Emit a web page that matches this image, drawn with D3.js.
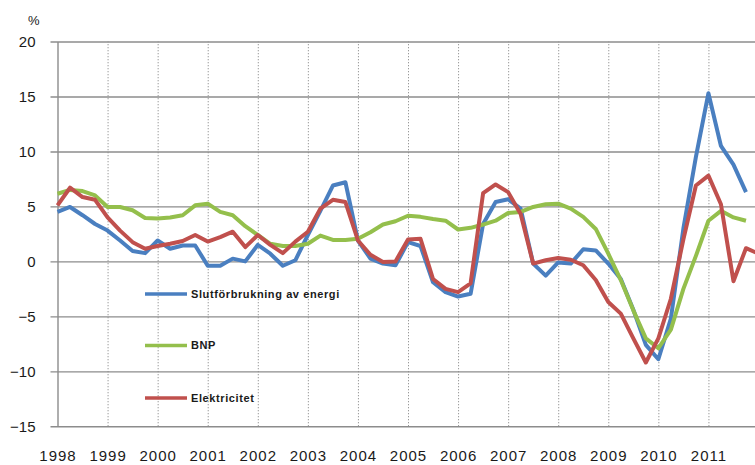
<!DOCTYPE html>
<html lang="sv">
<head>
    <title>Slutförbrukning av energi, BNP och elektricitet</title>
    <meta charset="UTF-8">
    <script src="https://d3js.org/d3.v7.min.js"></script>
    <style>
      body { margin: 0; background: #fff; }
      svg { display: block; font-family: "Liberation Sans", Arial, sans-serif; }
    </style>
</head>

<body>
    <div id="viz">
      <svg width="755" height="465"></svg>
    </div>

    <script>
      // quarterly change in %, 1998 Q1 onwards
      let years = [1998, 1999, 2000, 2001, 2002, 2003, 2004, 2005, 2006, 2007, 2008, 2009, 2010, 2011]
      let yTicks = [-15, -10, -5, 0, 5, 10, 15, 20]

      let energi = [4.5, 4.95, 4.2, 3.4, 2.8, 1.9, 0.95, 0.75, 1.9, 1.15, 1.45, 1.45,
        -0.4, -0.4, 0.25, 0.0, 1.5, 0.7, -0.4, 0.1, 2.4, 4.6, 6.9, 7.2,
        1.9, 0.25, -0.2, -0.35, 1.75, 1.4, -1.9, -2.8, -3.2, -2.95, 3.4, 5.4,
        5.65, 4.8, -0.2, -1.3, -0.1, -0.2, 1.1, 1.0, -0.2, -1.6, -4.4, -7.6,
        -8.9, -5.2, 3.0, 9.5, 15.3, 10.5, 8.8, 6.3]

      let bnp = [6.15, 6.5, 6.4, 6.0, 4.95, 4.95, 4.65, 3.95, 3.9, 4.0, 4.2, 5.1,
        5.25, 4.5, 4.2, 3.2, 2.4, 1.6, 1.4, 1.4, 1.6, 2.35, 1.95, 1.95,
        2.05, 2.65, 3.35, 3.65, 4.15, 4.05, 3.85, 3.7, 2.9, 3.05, 3.35, 3.7,
        4.4, 4.5, 4.95, 5.2, 5.25, 4.8, 4.05, 2.95, 0.7, -1.7, -4.45, -7.0,
        -7.9, -6.2, -2.5, 0.5, 3.7, 4.6, 4.0, 3.7]

      let el = [5.1, 6.7, 5.85, 5.6, 4.0, 2.8, 1.75, 1.15, 1.4, 1.6, 1.85, 2.4,
        1.8, 2.2, 2.7, 1.3, 2.4, 1.5, 0.75, 1.8, 2.7, 4.8, 5.6, 5.4,
        1.9, 0.6, -0.05, 0.0, 2.0, 2.05, -1.6, -2.5, -2.8, -2.0, 6.2, 7.0,
        6.3, 4.3, -0.2, 0.1, 0.3, 0.15, -0.35, -1.7, -3.7, -4.75, -7.0, -9.2,
        -7.0, -3.4, 2.0, 6.9, 7.8, 5.2, -1.8, 1.2, 0.7]

      let series = [
        {name: "Slutförbrukning av energi", values: energi, color: "#4a7fc0"},
        {name: "BNP", values: bnp, color: "#94bf4c"},
        {name: "Elektricitet", values: el, color: "#c0504d"}
      ]

      let svg = d3.select("svg")

      // year -> x, the plot runs a little past the right edge of the picture
      let xScale = d3.scaleLinear().domain([1998, 2012]).range([57.5, 758.5])
      let yScale = d3.scaleLinear().domain([-15, 20]).range([426.3, 41.5])

      // dotted year lines
      let xGrid = d3.axisBottom(xScale).tickValues(years.slice(1).concat([2012]))
        .tickSize(-(426.3 - 41.5)).tickFormat("")
      svg.append("g").attr("id", "xGridG")
        .attr("transform", "translate(0,426.3)").call(xGrid)
      svg.select("#xGridG").select(".domain").remove()
      svg.selectAll("#xGridG line").attr("stroke", "#9a9a9a")
        .attr("stroke-dasharray", "1.3,1.7")

      // horizontal grid lines + left axis with short ticks
      let yAxis = d3.axisLeft(yScale).tickValues(yTicks)
        .tickSizeInner(-(755 - 57.5)).tickSizeOuter(0).tickPadding(22)
      svg.append("g").attr("id", "yAxisG")
        .attr("transform", "translate(57.5,0)").call(yAxis)
      svg.selectAll("#yAxisG .tick line").attr("x1", -7).attr("stroke", "#8c8c8c")
        .attr("stroke-width", 1.4)
      svg.select("#yAxisG .domain").attr("stroke", "#8c8c8c").attr("stroke-width", 1.4)
      svg.selectAll("#yAxisG text").attr("font-size", 15).attr("fill", "#1a1a1a")

      svg.append("text").attr("x", 28).attr("y", 25)
        .attr("font-size", 13).attr("fill", "#1a1a1a").text("%")

      // year labels
      let xAxis = d3.axisBottom(xScale).tickValues(years).tickSize(0).tickPadding(24)
        .tickFormat(d3.format("d"))
      svg.append("g").attr("id", "xAxisG")
        .attr("transform", "translate(0,426.3)").call(xAxis)
      svg.select("#xAxisG .domain").remove()
      svg.selectAll("#xAxisG text").attr("font-size", 15).attr("fill", "#1a1a1a")
        .attr("letter-spacing", "1px")

      // series lines
      let line = d3.line()
        .x((d, i) => xScale(1998 + i / 4))
        .y(d => yScale(d))

      svg.append("g").selectAll("path")
        .data(series).enter()
        .append("path")
        .attr("d", d => line(d.values))
        .attr("fill", "none")
        .attr("stroke", d => d.color)
        .attr("stroke-width", 4)
        .attr("stroke-linejoin", "round")

      // legend sits inside the plot
      let legend = svg.append("g").selectAll("g")
        .data(series).enter()
        .append("g")
        .attr("transform", (d, i) => "translate(145," + [294, 345.5, 398][i] + ")")
      legend.append("line").attr("x1", 0).attr("x2", 42)
        .attr("stroke", d => d.color).attr("stroke-width", 3.5)
      legend.append("text").attr("x", 46).attr("dy", "0.35em")
        .attr("font-size", 11).attr("font-weight", "bold").attr("fill", "#1a1a1a")
        .attr("letter-spacing", "0.6px")
        .text(d => d.name)
    </script>
</body>
</html>
